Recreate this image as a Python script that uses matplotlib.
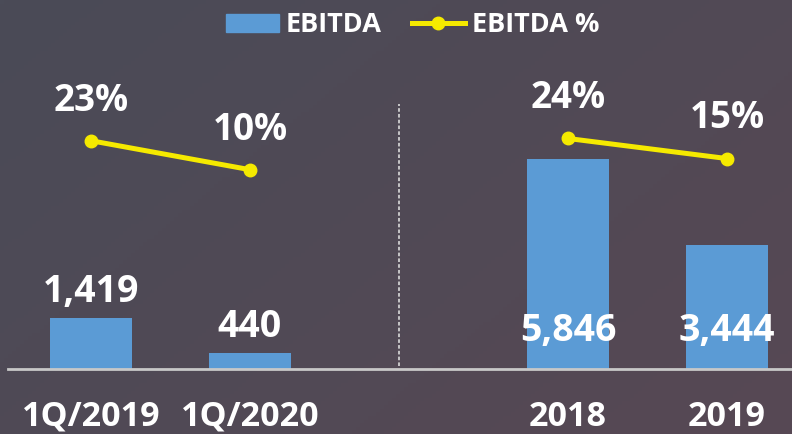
import numpy as np
import matplotlib
matplotlib.use("Agg")
import matplotlib.pyplot as plt
from matplotlib.lines import Line2D
from matplotlib.patches import Patch

plt.rcParams['font.family'] = ['Open Sans', 'DejaVu Sans']

categories = ['1Q/2019', '1Q/2020', '2018', '2019']
ebitda = [1419, 440, 5846, 3444]
ebitda_labels = ['1,419', '440', '5,846', '3,444']
margin = [23, 10, 24, 15]
margin_labels = ['23%', '10%', '24%', '15%']

xpos = [0, 1, 3, 4]
blue = '#5b9bd5'
yellow = '#f5ea00'

fig = plt.figure(figsize=(7.92, 4.34), dpi=100)

# diagonal background gradient
bg = fig.add_axes([0, 0, 1, 1], zorder=-10)
gx, gy = np.meshgrid(np.linspace(0, 1, 200), np.linspace(0, 1, 120))
t = (gx * 0.6 + gy * 0.4)
c0 = np.array([74, 75, 87]) / 255
c1 = np.array([87, 72, 84]) / 255
img = c0[None, None, :] * (1 - t[..., None]) + c1[None, None, :] * t[..., None]
bg.imshow(img, aspect='auto', extent=[0, 1, 0, 1], origin='upper')
bg.axis('off')

ax = fig.add_axes([0.0101, 0.1498, 0.9899, 0.735])
ax.patch.set_alpha(0)
ax.bar(xpos, ebitda, width=0.516, color=blue, zorder=2)
ax.set_xlim(-0.522, 4.409)
ax.set_ylim(0, 8886)

for i, (x, v) in enumerate(zip(xpos, ebitda)):
    if v > 3000:
        ax.text(x, 1050, ebitda_labels[i], ha='center', va='center', color='white',
                fontsize=27, fontweight='bold', zorder=5)
    else:
        ax.text(x, v + 730, ebitda_labels[i], ha='center', va='center', color='white',
                fontsize=27, fontweight='bold', zorder=5)

for s in ['top', 'right', 'left']:
    ax.spines[s].set_visible(False)
ax.spines['bottom'].set_color('#c8c8c8')
ax.spines['bottom'].set_linewidth(2)
ax.set_yticks([])
ax.set_xticks(xpos)
ax.set_xticklabels(categories, fontsize=24.5, fontweight='bold', color='white')
ax.tick_params(axis='x', length=0, pad=22)

ax.axvline(1.94, ymin=0.01, ymax=0.83, color='#d0d0d0', lw=1.3, ls=(0, (2, 1.2)))

ax2 = ax.twinx()
ax2.set_ylim(-79.4, 63.7)
ax2.axis('off')
ax2.plot(xpos[:2], margin[:2], color=yellow, lw=3.6, marker='o', ms=9, zorder=3)
ax2.plot(xpos[2:], margin[2:], color=yellow, lw=3.6, marker='o', ms=9, zorder=3)
for x, m, lab in zip(xpos, margin, margin_labels):
    ax2.text(x, m + 18.0, lab, ha='center', va='center', color='white',
             fontsize=26.5, fontweight='bold')

handles = [Patch(color=blue),
           Line2D([0], [0], color=yellow, lw=3.6, marker='o', ms=9)]
fig.legend(handles, ['EBITDA', 'EBITDA %'], loc='center', bbox_to_anchor=(0.521, 0.942),
           ncol=2, frameon=False, labelcolor='white',
           prop={'weight': 'bold', 'size': 19.5}, handlelength=1.95, handleheight=0.63,
           handletextpad=0.26, columnspacing=1.1)

fig.savefig('out.png', dpi=100)
